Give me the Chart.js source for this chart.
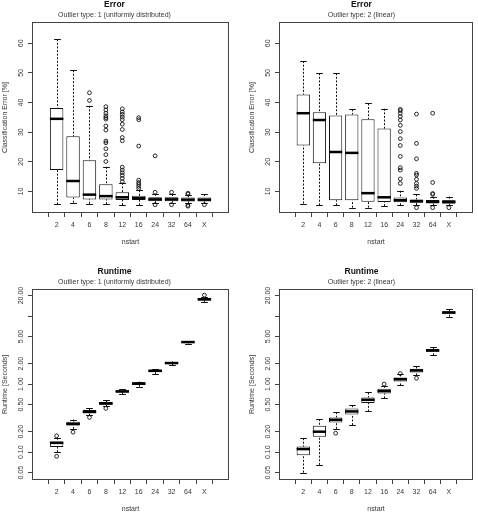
<!DOCTYPE html>
<html>
<head>
<meta charset="utf-8">
<script src="https://cdn.jsdelivr.net/npm/chart.js@4/dist/chart.umd.min.js"></script>
<style>
  body { margin: 0; background: #fff; }
  #wrap { position: relative; width: 478px; height: 521px; }
  canvas { position: absolute; }
</style>
</head>
<body>
<div id="wrap">
  <canvas id="c1" width="239" height="260" style="left:0;top:0"></canvas>
  <canvas id="c2" width="231" height="260" style="left:247px;top:0"></canvas>
  <canvas id="c3" width="239" height="261" style="left:0;top:260px"></canvas>
  <canvas id="c4" width="231" height="261" style="left:247px;top:260px"></canvas>
</div>
<script>
const cats = ["2", "4", "6", "8", "12", "16", "24", "32", "64", "X"];

// Error, outlier type 1 (uniformly distributed)
const err1Lo  = [5.6, 6.2, 5.8, 5.7, 5.4, 5.3, 6.0, 6.2, 6.1, 6.2];
const err1Q1  = [17.2, 7.9, 7.3, 7.3, 7.1, 7.1, 6.7, 6.7, 6.6, 6.6];
const err1Med = [34.5, 13.5, 8.9, 8.4, 8.0, 7.7, 7.3, 7.3, 7.2, 7.2];
const err1Q3  = [38.2, 28.6, 20.5, 12.4, 9.7, 8.5, 8.0, 8.0, 7.9, 7.9];
const err1Hi  = [61.4, 50.9, 38.9, 18.3, 12.9, 10.4, 9.2, 9.1, 8.7, 9.1];
const err1Out = [
  [], [], [43.3, 40.7],
  [38.6, 37.5, 36.4, 35.5, 34.9, 34.4, 32.1, 30.7, 27.0, 26.4, 24.4, 22.4, 20.1],
  [37.9, 36.8, 36.0, 35.1, 34.2, 32.7, 30.9, 28.2, 27.1, 18.2, 17.2, 16.3, 15.4, 14.4, 13.3],
  [34.9, 34.2, 25.3, 13.8, 13.0, 12.4, 11.7, 11.0],
  [22.0, 9.7, 5.5], [9.7, 5.5], [9.4, 9.1, 5.3, 5.0], [5.5]
];

// Error, outlier type 2 (linear)
const err2Lo  = [5.9, 5.3, 5.3, 4.5, 4.5, 5.0, 5.3, 5.4, 5.4, 5.4];
const err2Q1  = [25.5, 19.5, 7.0, 7.0, 6.5, 6.4, 6.3, 6.2, 5.9, 5.8];
const err2Med = [36.4, 34.1, 23.3, 23.0, 9.4, 8.0, 7.0, 6.7, 6.5, 6.5];
const err2Q3  = [42.7, 36.7, 35.6, 36.0, 34.4, 31.2, 7.9, 7.3, 7.1, 7.0];
const err2Hi  = [54.0, 49.9, 49.9, 37.7, 39.7, 37.9, 10.2, 9.0, 8.2, 8.2];
const err2Out = [
  [], [], [], [], [], [],
  [37.7, 37.3, 36.4, 35.3, 34.1, 32.3, 30.2, 27.8, 25.5, 21.8, 18.0, 17.2, 14.2, 12.7],
  [36.1, 26.2, 21.0, 16.1, 15.5, 14.1, 12.7, 11.8, 11.0, 4.5],
  [36.4, 13.0, 9.3, 9.0, 4.5],
  [4.5]
];

// Runtime, outlier type 1
const rt1Lo  = [0.100, 0.22, 0.346, 0.47, 0.713, 0.92, 1.40, 1.90, 3.95, 16.2];
const rt1Q1  = [0.119, 0.247, 0.375, 0.497, 0.754, 0.97, 1.50, 1.97, 4.05, 17.0];
const rt1Med = [0.137, 0.26, 0.39, 0.52, 0.78, 1.02, 1.57, 2.04, 4.15, 17.6];
const rt1Q3  = [0.143, 0.28, 0.415, 0.544, 0.816, 1.07, 1.62, 2.10, 4.22, 18.4];
const rt1Hi  = [0.163, 0.302, 0.44, 0.575, 0.84, 1.09, 1.66, 2.15, 4.3, 19.05];
const rt1Out = [[0.174, 0.087], [0.197], [0.324], [0.44], [], [], [], [], [], [20.3]];

// Runtime, outlier type 2
const rt2Lo  = [0.05, 0.065, 0.22, 0.25, 0.397, 0.62, 0.956, 1.34, 2.64, 9.8];
const rt2Q1  = [0.09, 0.168, 0.273, 0.358, 0.53, 0.73, 1.09, 1.48, 2.99, 10.6];
const rt2Med = [0.111, 0.2, 0.299, 0.397, 0.588, 0.79, 1.18, 1.59, 3.12, 11.3];
const rt2Q3  = [0.121, 0.244, 0.324, 0.44, 0.636, 0.854, 1.25, 1.68, 3.27, 11.8];
const rt2Hi  = [0.161, 0.306, 0.388, 0.49, 0.754, 0.945, 1.39, 1.82, 3.46, 12.6];
const rt2Out = [[], [], [0.19], [], [], [1.0], [1.43], [1.22], [], []];

const errTicks = [10, 20, 30, 40, 50, 60];
const errTickLabels = ["10", "20", "30", "40", "50", "60"];
const rtTicks = [0.05, 0.1, 0.2, 0.5, 1, 2, 5, 10, 20];
const rtTickLabels = ["0.05", "0.10", "0.20", "0.50", "1.00", "2.00", "5.00", "", "20.00"];

const FONT = "'Liberation Sans', Arial, Helvetica, sans-serif";
const TXT = "#383838";
const LINE = "#444";
Chart.defaults.font.family = FONT;
Chart.defaults.color = TXT;

// whiskers, staples and medians, drawn through the chart scales
const boxStats = {
  id: "boxStats",
  beforeDatasetsDraw(chart) {
    const ds = chart.data.datasets[0];
    const meta = chart.getDatasetMeta(0);
    const { ctx, scales: { x, y } } = chart;
    ctx.save();
    ctx.strokeStyle = "#111";
    ctx.lineWidth = 1;
    meta.data.forEach((bar, i) => {
      const cx = Math.round(x.getPixelForValue(i)) + 0.5;
      const cap = bar.width / 4;
      ctx.setLineDash([2, 1.6]);
      ctx.beginPath();
      ctx.moveTo(cx, y.getPixelForValue(ds.hiStat[i]));
      ctx.lineTo(cx, y.getPixelForValue(ds.q3Stat[i]));
      ctx.moveTo(cx, y.getPixelForValue(ds.loStat[i]));
      ctx.lineTo(cx, y.getPixelForValue(ds.q1Stat[i]));
      ctx.stroke();
      ctx.setLineDash([]);
      ctx.beginPath();
      [ds.hiStat[i], ds.loStat[i]].forEach(v => {
        const py = Math.round(y.getPixelForValue(v)) + 0.5;
        ctx.moveTo(cx - cap, py);
        ctx.lineTo(cx + cap, py);
      });
      ctx.stroke();
    });
    ctx.restore();
  },
  afterDatasetsDraw(chart) {
    const ds = chart.data.datasets[0];
    const meta = chart.getDatasetMeta(0);
    const { ctx, scales: { x, y } } = chart;
    ctx.save();
    ctx.strokeStyle = "#000";
    ctx.lineWidth = 2.5;
    ctx.lineCap = "butt";
    meta.data.forEach((bar, i) => {
      const cx = x.getPixelForValue(i);
      const py = y.getPixelForValue(ds.medStat[i]);
      ctx.beginPath();
      ctx.moveTo(cx - bar.width / 2, py);
      ctx.lineTo(cx + bar.width / 2, py);
      ctx.stroke();
    });
    ctx.restore();
  }
};

function makeChart(id, cfg) {
  const canvas = document.getElementById(id);
  const H = canvas.height, W = canvas.width;
  const frameBottom = cfg.frameBottom;

  const frame = {
    id: "frame",
    afterDraw(chart) {
      const { ctx, chartArea: a } = chart;
      ctx.save();
      ctx.strokeStyle = LINE;
      ctx.lineWidth = 1;
      ctx.strokeRect(Math.round(a.left) + 0.5, Math.round(a.top) + 0.5,
        Math.round(a.right - a.left) - 1, Math.round(a.bottom - a.top) - 1);
      // rotated y tick labels
      const ys = chart.scales.y;
      ctx.fillStyle = TXT;
      ctx.font = "7px " + FONT;
      ctx.textAlign = "center";
      ctx.textBaseline = "middle";
      cfg.yTicks.forEach((v, i) => {
        if (!cfg.yTickLabels[i]) return;
        ctx.save();
        ctx.translate(a.left - 10.5, ys.getPixelForValue(v));
        ctx.rotate(-Math.PI / 2);
        ctx.fillText(cfg.yTickLabels[i], 0, 0);
        ctx.restore();
      });
      ctx.restore();
    }
  };

  const outPts = cfg.out.flatMap((arr, i) => arr.map(v => ({ x: i, y: v })));

  return new Chart(canvas, {
    type: "bar",
    data: {
      datasets: [
        {
          type: "bar",
          data: cats.map((c, i) => ({ x: i, y: [cfg.q1[i], cfg.q3[i]] })),
          loStat: cfg.lo, q1Stat: cfg.q1, medStat: cfg.med, q3Stat: cfg.q3, hiStat: cfg.hi,
          backgroundColor: "#fff",
          borderColor: "#111",
          borderWidth: 1,
          borderSkipped: false,
          barPercentage: 0.82,
          categoryPercentage: 1,
          grouped: false
        },
        {
          type: "scatter",
          data: outPts,
          pointStyle: "circle",
          pointRadius: 1.9,
          pointBorderWidth: 0.9,
          pointBorderColor: "#111",
          pointBackgroundColor: "rgba(0,0,0,0)",
          showLine: false
        }
      ]
    },
    options: {
      responsive: false,
      animation: false,
      events: [],
      layout: {
        padding: { left: 0, right: W - 229, top: cfg.topPad, bottom: H - frameBottom - 36 }
      },
      plugins: {
        legend: { display: false },
        tooltip: { enabled: false },
        title: {
          display: true, text: cfg.title, color: "#111",
          font: { size: 8.5, weight: "bold", lineHeight: "10px" },
          padding: { top: 0, bottom: 0 }
        },
        subtitle: {
          display: true, text: cfg.subtitle, color: TXT,
          font: { size: 7, lineHeight: "9px" },
          padding: { top: 1, bottom: 2 }
        }
      },
      scales: {
        x: {
          type: "linear",
          min: -0.9, max: 9.9,
          bounds: "data",
          afterBuildTicks: s => { s.ticks = cats.map((c, i) => ({ value: i })); },
          afterFit: s => { s.height = 36; },
          ticks: {
            callback: v => cats[v],
            font: { size: 7 }, color: TXT, padding: 3.5,
            maxRotation: 0, minRotation: 0, autoSkip: false
          },
          grid: { display: true, drawOnChartArea: false, drawTicks: true, tickLength: 4, color: LINE },
          border: { display: false },
          title: { display: true, text: "nstart", font: { size: 7 }, color: TXT, padding: { top: 0, bottom: 3 } }
        },
        y: {
          type: cfg.log ? "logarithmic" : "linear",
          min: cfg.ymin, max: cfg.ymax,
          bounds: "data",
          afterBuildTicks: s => { s.ticks = cfg.yTicks.map(v => ({ value: v })); },
          afterFit: s => { s.width = 32; },
          ticks: { display: false },
          grid: { display: true, drawOnChartArea: false, drawTicks: true, tickLength: 4, color: LINE },
          border: { display: false },
          title: { display: true, text: cfg.ylabel, font: { size: 7 }, color: TXT, padding: { top: 0.5, bottom: 0 } }
        }
      }
    },
    plugins: [boxStats, frame]
  });
}

makeChart("c1", {
  title: "Error", subtitle: "Outlier type: 1 (uniformly distributed)",
  ylabel: "Classification Error [%]", log: false, ymin: 2.7, ymax: 67.2,
  yTicks: errTicks, yTickLabels: errTickLabels, topPad: 0, frameBottom: 213,
  lo: err1Lo, q1: err1Q1, med: err1Med, q3: err1Q3, hi: err1Hi, out: err1Out
});
makeChart("c2", {
  title: "Error", subtitle: "Outlier type: 2 (linear)",
  ylabel: "Classification Error [%]", log: false, ymin: 2.7, ymax: 67.2,
  yTicks: errTicks, yTickLabels: errTickLabels, topPad: 0, frameBottom: 213,
  lo: err2Lo, q1: err2Q1, med: err2Med, q3: err2Q3, hi: err2Hi, out: err2Out
});
makeChart("c3", {
  title: "Runtime", subtitle: "Outlier type: 1 (uniformly distributed)",
  ylabel: "Runtime [Seconds]", log: true, ymin: 0.039, ymax: 25,
  yTicks: rtTicks, yTickLabels: rtTickLabels, topPad: 7, frameBottom: 220,
  lo: rt1Lo, q1: rt1Q1, med: rt1Med, q3: rt1Q3, hi: rt1Hi, out: rt1Out
});
makeChart("c4", {
  title: "Runtime", subtitle: "Outlier type: 2 (linear)",
  ylabel: "Runtime [Seconds]", log: true, ymin: 0.039, ymax: 25,
  yTicks: rtTicks, yTickLabels: rtTickLabels, topPad: 7, frameBottom: 220,
  lo: rt2Lo, q1: rt2Q1, med: rt2Med, q3: rt2Q3, hi: rt2Hi, out: rt2Out
});
</script>
</body>
</html>
